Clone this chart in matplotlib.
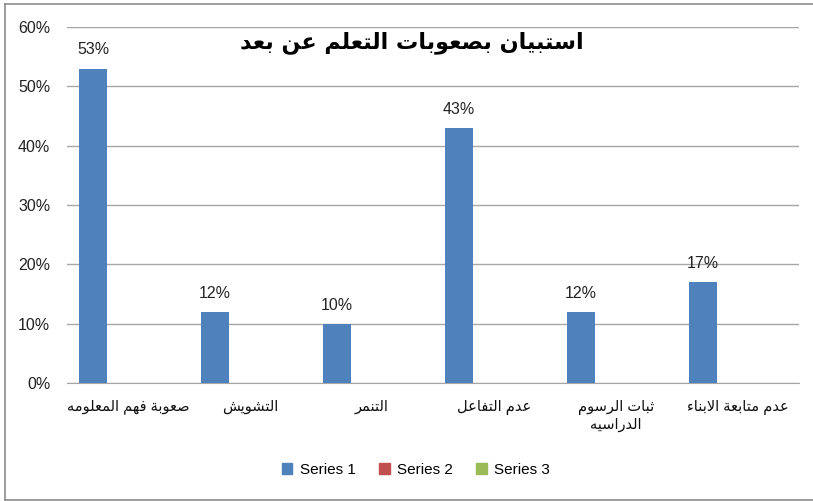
import matplotlib.pyplot as plt
from matplotlib.lines import Line2D
from matplotlib.patches import Patch

# Данные графика
title = "استبيان بصعوبات التعلم عن بعد"
categories = [
    "صعوبة فهم المعلومه",
    "التشويش",
    "التنمر",
    "عدم التفاعل",
    "ثبات الرسوم\nالدراسيه",
    "عدم متابعة الابناء",
]
series_names = ["Series 1", "Series 2", "Series 3"]
series1 = [0.53, 0.12, 0.10, 0.43, 0.12, 0.17]
series2 = [0, 0, 0, 0, 0, 0]
series3 = [0, 0, 0, 0, 0, 0]
y_ticks = [0, 0.1, 0.2, 0.3, 0.4, 0.5, 0.6]

colors = ["#4F81BD", "#C0504D", "#9BBB59"]

# Простейшее соединение арабских букв (matplotlib сам не умеет)
FORMS = {
    "ء": (0xFE80,), "آ": (0xFE81, 0xFE82), "أ": (0xFE83, 0xFE84),
    "ؤ": (0xFE85, 0xFE86), "إ": (0xFE87, 0xFE88),
    "ئ": (0xFE89, 0xFE8A, 0xFE8B, 0xFE8C), "ا": (0xFE8D, 0xFE8E),
    "ب": (0xFE8F, 0xFE90, 0xFE91, 0xFE92), "ة": (0xFE93, 0xFE94),
    "ت": (0xFE95, 0xFE96, 0xFE97, 0xFE98), "ث": (0xFE99, 0xFE9A, 0xFE9B, 0xFE9C),
    "ج": (0xFE9D, 0xFE9E, 0xFE9F, 0xFEA0), "ح": (0xFEA1, 0xFEA2, 0xFEA3, 0xFEA4),
    "خ": (0xFEA5, 0xFEA6, 0xFEA7, 0xFEA8), "د": (0xFEA9, 0xFEAA),
    "ذ": (0xFEAB, 0xFEAC), "ر": (0xFEAD, 0xFEAE), "ز": (0xFEAF, 0xFEB0),
    "س": (0xFEB1, 0xFEB2, 0xFEB3, 0xFEB4), "ش": (0xFEB5, 0xFEB6, 0xFEB7, 0xFEB8),
    "ص": (0xFEB9, 0xFEBA, 0xFEBB, 0xFEBC), "ض": (0xFEBD, 0xFEBE, 0xFEBF, 0xFEC0),
    "ط": (0xFEC1, 0xFEC2, 0xFEC3, 0xFEC4), "ظ": (0xFEC5, 0xFEC6, 0xFEC7, 0xFEC8),
    "ع": (0xFEC9, 0xFECA, 0xFECB, 0xFECC), "غ": (0xFECD, 0xFECE, 0xFECF, 0xFED0),
    "ف": (0xFED1, 0xFED2, 0xFED3, 0xFED4), "ق": (0xFED5, 0xFED6, 0xFED7, 0xFED8),
    "ك": (0xFED9, 0xFEDA, 0xFEDB, 0xFEDC), "ل": (0xFEDD, 0xFEDE, 0xFEDF, 0xFEE0),
    "م": (0xFEE1, 0xFEE2, 0xFEE3, 0xFEE4), "ن": (0xFEE5, 0xFEE6, 0xFEE7, 0xFEE8),
    "ه": (0xFEE9, 0xFEEA, 0xFEEB, 0xFEEC), "و": (0xFEED, 0xFEEE),
    "ى": (0xFEEF, 0xFEF0), "ي": (0xFEF1, 0xFEF2, 0xFEF3, 0xFEF4),
}
LAM_ALEF = {"آ": (0xFEF5, 0xFEF6), "أ": (0xFEF7, 0xFEF8),
            "إ": (0xFEF9, 0xFEFA), "ا": (0xFEFB, 0xFEFC)}


def shape_line(text):
    out = []
    i = 0
    n = len(text)
    while i < n:
        ch = text[i]
        prev = text[i - 1] if i > 0 else ""
        joins_prev = ch in FORMS and len(FORMS.get(prev, ())) == 4
        if ch == "ل" and i + 1 < n and text[i + 1] in LAM_ALEF:
            out.append(chr(LAM_ALEF[text[i + 1]][1 if joins_prev else 0]))
            i += 2
            continue
        if ch not in FORMS:
            out.append(ch)
            i += 1
            continue
        forms = FORMS[ch]
        nxt = text[i + 1] if i + 1 < n else ""
        joins_next = len(forms) == 4 and nxt in FORMS
        if len(forms) == 1:
            code = forms[0]
        elif joins_prev and joins_next:
            code = forms[3]
        elif joins_prev:
            code = forms[1]
        elif joins_next:
            code = forms[2]
        else:
            code = forms[0]
        out.append(chr(code))
        i += 1
    return "".join(out)[::-1]


def ar(text):
    return "\n".join(shape_line(line) for line in text.split("\n"))


fonts = ["Liberation Sans", "DejaVu Sans"]
plt.rcParams["font.family"] = fonts

fig = plt.figure(figsize=(8.13, 5.01), dpi=100)
ax = fig.add_axes([67 / 813, 1 - 383 / 501, 732 / 813, 356 / 501])

# Внешняя рамка диаграммы
for xs, ys in [([5, 5], [4, 500]), ([5, 813], [4, 4]), ([5, 813], [500, 500])]:
    fig.add_artist(Line2D([x / 813 for x in xs], [1 - y / 501 for y in ys],
                          color="#8C8C8C", lw=1.2))

x = list(range(len(categories)))
bw = 28 / 122
off0 = -0.5 + 12 / 122 + bw / 2
for k, vals in enumerate([series1, series2, series3]):
    pos = [xi + off0 + k * bw for xi in x]
    bars = ax.bar(pos, vals, width=bw, color=colors[k], zorder=3)
    if k == 0:
        for b, v in zip(bars, vals):
            ax.annotate(f"{round(v * 100)}%", (b.get_x() + b.get_width() / 2, v),
                        xytext=(0, 8), textcoords="offset points",
                        ha="center", va="bottom", fontsize=11.5, color="#222222")

ax.set_xlim(-0.5, len(categories) - 0.5)
ax.set_ylim(0, 0.6)
ax.set_yticks(y_ticks)
ax.set_yticklabels([f"{round(t * 100)}%" for t in y_ticks], fontsize=11.5, color="#222222")
ax.set_xticks(x)
ax.set_xticklabels([ar(c) for c in categories], fontsize=10.5, color="#111111",
                   va="top", linespacing=1.3)
ax.tick_params(axis="y", length=0, pad=12)
ax.tick_params(axis="x", length=0, pad=12)
ax.grid(axis="y", color="#A6A6A6", lw=1, zorder=0)
for s in ["left", "right", "top"]:
    ax.spines[s].set_visible(False)
ax.spines["bottom"].set_color("#A6A6A6")

fig.text(412 / 813, 1 - 43 / 501, ar(title), ha="center", va="center",
         fontsize=16, fontweight="bold", family=["DejaVu Sans"])

handles = [Patch(color=c) for c in colors]
fig.legend(handles, series_names, loc="center", bbox_to_anchor=(416 / 813, 1 - 470 / 501),
           ncol=3, frameon=False, fontsize=11, handlelength=0.7, handleheight=0.7,
           columnspacing=1.5, handletextpad=0.5)

plt.savefig("out.png", dpi=100)
